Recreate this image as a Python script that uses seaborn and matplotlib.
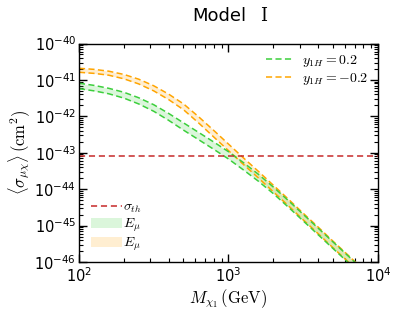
import numpy as np
import pandas as pd
import matplotlib
matplotlib.use("Agg")
import matplotlib.pyplot as plt
import seaborn as sns
from matplotlib.patches import Patch
from matplotlib.lines import Line2D
from matplotlib.ticker import LogLocator

# Dark matter mass (GeV), steps of 0.1 in log10
mass = [100, 126, 158, 200, 251, 316, 398, 501, 631, 794, 1000, 1259, 1585,
        1995, 2512, 3162, 3981, 5012, 6310, 7943, 10000]

# log10 of cross section (cm^2)
green_upper = [-41.09, -41.15, -41.23, -41.34, -41.49, -41.68, -41.92, -42.18, -42.44,
               -42.70, -42.97, -43.27, -43.59, -43.94, -44.31, -44.69, -45.07, -45.45,
               -45.83, -46.21, -46.59]
green_lower = [-41.24, -41.30, -41.38, -41.50, -41.66, -41.86, -42.11, -42.38, -42.64,
               -42.90, -43.17, -43.47, -43.78, -44.12, -44.49, -44.87, -45.25, -45.63,
               -46.01, -46.39, -46.77]
orange_upper = [-40.68, -40.71, -40.76, -40.85, -40.98, -41.16, -41.39, -41.66, -42.01,
                -42.38, -42.76, -43.14, -43.51, -43.89, -44.27, -44.66, -45.04, -45.43,
                -45.81, -46.20, -46.58]
orange_lower = [-40.79, -40.82, -40.87, -40.97, -41.11, -41.30, -41.54, -41.82, -42.18,
                -42.56, -42.94, -43.32, -43.69, -44.07, -44.45, -44.84, -45.22, -45.61,
                -45.99, -46.38, -46.76]

sigma_th = 7.9e-44

green = "#3ccf3c"
orange = "#ffa500"
red = "#c62828"

sns.set_style("ticks")
plt.rcParams["font.family"] = ["DejaVu Sans"]
plt.rcParams["mathtext.fontset"] = "dejavusans"
plt.rcParams["axes.unicode_minus"] = False
plt.rcParams["text.color"] = "black"
plt.rcParams["axes.labelcolor"] = "black"

df = pd.DataFrame({
    "M": mass,
    "g_up": np.power(10.0, green_upper),
    "g_lo": np.power(10.0, green_lower),
    "o_up": np.power(10.0, orange_upper),
    "o_lo": np.power(10.0, orange_lower),
})

fig = plt.figure(figsize=(3.99, 3.13), dpi=100)
ax = fig.add_axes([0.198, 0.163, 0.749, 0.698])

ax.fill_between(df["M"], df["o_lo"], df["o_up"], color=orange, alpha=0.18, lw=0)
ax.fill_between(df["M"], df["g_lo"], df["g_up"], color=green, alpha=0.18, lw=0)

for col, c in [("o_up", orange), ("o_lo", orange), ("g_up", green), ("g_lo", green)]:
    sns.lineplot(data=df, x="M", y=col, ax=ax, color=c, linestyle=(0, (4, 2.2)), lw=1.1)

ax.axhline(sigma_th, color=red, linestyle=(0, (4, 2.5)), lw=1.1)

ax.set_xscale("log")
ax.set_yscale("log")
ax.set_xlim(1e2, 1e4)
ax.set_ylim(1e-46, 1e-40)
ax.yaxis.set_major_locator(LogLocator(base=10, numticks=10))
ax.yaxis.set_minor_locator(LogLocator(base=10, subs=np.arange(2, 10), numticks=20))
ax.xaxis.set_minor_locator(LogLocator(base=10, subs=np.arange(2, 10), numticks=20))

ax.tick_params(which="both", direction="in", top=True, right=True, bottom=True, left=True,
               colors="black", labelsize=10.5, pad=2)
ax.tick_params(axis="x", which="major", pad=3)
ax.tick_params(which="major", length=6, width=1)
ax.tick_params(which="minor", length=3, width=0.8)
for s in ax.spines.values():
    s.set_linewidth(1.0)
    s.set_color("black")

ax.set_xlabel(r"$M_{\chi_1}\,(\mathrm{GeV})$", fontsize=12, math_fontfamily="cm", labelpad=2)
ax.set_ylabel(r"$\langle\sigma_{\mu\chi}\rangle\,(\mathrm{cm}^2)$", fontsize=12,
              math_fontfamily="cm", labelpad=2)

# title: "Model" in sans, the roman numeral in a serif face
fig.text(192 / 399, 1 - 16 / 313, "Model", fontsize=13, ha="left", va="center")
fig.text(260 / 399, 1 - 16 / 313, "\u2160", fontsize=13, ha="left", va="center",
         family=["DejaVu Serif", "DejaVu Sans"])

handles1 = [Line2D([0], [0], color=green, linestyle=(0, (4, 2.2)), lw=1.1),
            Line2D([0], [0], color=orange, linestyle=(0, (4, 2.2)), lw=1.1)]
leg1 = ax.legend(handles1, [r"$y_{1H}=0.2$", r"$y_{1H}=-0.2$"], loc="upper right",
                 frameon=False, prop={"size": 10, "math_fontfamily": "cm"},
                 handlelength=2.0, borderaxespad=0.3, labelspacing=0.1, handletextpad=0.6)
ax.add_artist(leg1)

handles2 = [Line2D([0], [0], color=red, linestyle=(0, (4, 2.5)), lw=1.1),
            Patch(facecolor=green, alpha=0.18, edgecolor="none"),
            Patch(facecolor=orange, alpha=0.18, edgecolor="none")]
ax.legend(handles2, [r"$\sigma_{th}$", r"$E_{\mu}$", r"$E_{\mu}$"], loc="lower left",
          bbox_to_anchor=(0.022, 0.016), borderaxespad=0,
          frameon=False, prop={"size": 10, "math_fontfamily": "cm"},
          handlelength=2.2, labelspacing=0.12, handletextpad=0.1)

fig.savefig("out.png", dpi=100)
